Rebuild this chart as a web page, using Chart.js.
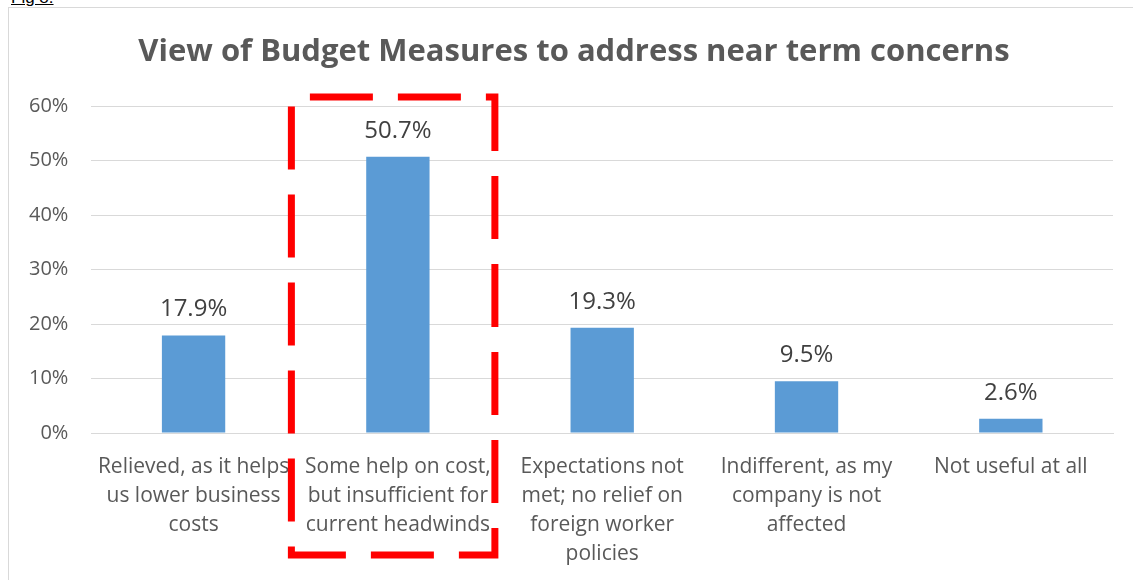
<!DOCTYPE html>
<html>
<head>
<meta charset="utf-8">
<script src="https://cdn.jsdelivr.net/npm/chart.js@4/dist/chart.umd.min.js"></script>
<style>
  html, body { margin: 0; padding: 0; background: #fff; overflow: hidden; }
  #wrap { position: relative; width: 1133px; height: 580px; overflow: hidden; }
  #fig { position: absolute; left: 11px; top: -12px; font: 17px "Liberation Sans", Arial, sans-serif; color: #000; text-decoration: underline; }
  #frame { position: absolute; left: 8px; top: 7px; width: 1132px; height: 600px; border: 1px solid #d9d9d9; box-sizing: border-box; }
  canvas { position: absolute; left: 8px; top: 7px; }
</style>
</head>
<body>
<div id="wrap">
  <div id="fig">Fig 8:</div>
  <div id="frame"></div>
  <canvas id="c" width="1132" height="573"></canvas>
</div>
<script>
const titleText = 'View of Budget Measures to address near term concerns';
const categories = [
  ['Relieved, as it helps', 'us lower business', 'costs'],
  ['Some help on cost,', 'but insufficient for', 'current headwinds'],
  ['Expectations not', 'met; no relief on', 'foreign worker', 'policies'],
  ['Indifferent, as my', 'company is not', 'affected'],
  ['Not useful at all']
];
const shares = [17.9, 50.7, 19.3, 9.5, 2.6];
const highlightIndex = 1;
const FONT = '"Open Sans", Lato, sans-serif';

// Chart title, centred on the whole chart frame
const frameTitle = {
  id: 'frameTitle',
  afterDraw(chart) {
    const ctx = chart.ctx;
    ctx.save();
    ctx.font = 'bold 31px ' + FONT;
    ctx.fillStyle = '#595959';
    ctx.textAlign = 'center';
    ctx.textBaseline = 'alphabetic';
    ctx.fillText(titleText, chart.width / 2, 54);
    ctx.restore();
  }
};

// Writes each bar's value above it
const valueLabels = {
  id: 'valueLabels',
  afterDatasetsDraw(chart) {
    const ctx = chart.ctx;
    const meta = chart.getDatasetMeta(0);
    ctx.save();
    ctx.font = '24px ' + FONT;
    ctx.fillStyle = '#404040';
    ctx.textAlign = 'center';
    ctx.textBaseline = 'middle';
    meta.data.forEach((bar, i) => {
      ctx.fillText(shares[i].toFixed(1) + '%', bar.x, bar.y - 26);
    });
    ctx.restore();
  }
};

// Red dashed box around the highlighted category
const highlightBox = {
  id: 'highlightBox',
  afterDraw(chart) {
    const ctx = chart.ctx;
    const x = chart.scales.x;
    const y = chart.scales.y;
    const cx = x.getPixelForValue(highlightIndex);
    const left = cx - 106.5, right = cx + 97;
    const top = y.top - 9, bottom = y.bottom + 122;
    ctx.save();
    ctx.strokeStyle = '#ff0000';
    ctx.lineWidth = 7;
    ctx.lineCap = 'butt';
    ctx.lineJoin = 'miter';
    ctx.setLineDash([63, 25]);
    ctx.lineDashOffset = 69.5;
    ctx.beginPath();
    ctx.moveTo(left, top);
    ctx.lineTo(right, top);
    ctx.lineTo(right, bottom);
    ctx.lineTo(left, bottom);
    ctx.closePath();
    ctx.stroke();
    ctx.restore();
  }
};

new Chart(document.getElementById('c'), {
  type: 'bar',
  data: {
    labels: categories,
    datasets: [{
      data: shares,
      backgroundColor: '#5b9bd5',
      borderWidth: 0,
      barPercentage: 0.31,
      categoryPercentage: 1
    }]
  },
  options: {
    responsive: false,
    animation: false,
    layout: { padding: { left: 0, right: 27, top: 99, bottom: 0 } },
    plugins: {
      legend: { display: false },
      tooltip: { enabled: false },
      title: { display: false }
    },
    scales: {
      x: {
        grid: { display: false, drawTicks: false },
        border: { display: true, color: '#d9d9d9', width: 1 },
        ticks: {
          color: '#595959',
          font: { family: FONT, size: 21, lineHeight: 29 / 21 },
          padding: 20,
          maxRotation: 0,
          autoSkip: false
        },
        afterFit(scale) { scale.height -= 9; }
      },
      y: {
        min: 0,
        max: 60,
        grid: { color: '#d9d9d9', lineWidth: 1, drawTicks: false },
        border: { display: false },
        ticks: {
          stepSize: 10,
          color: '#595959',
          font: { family: FONT, size: 20 },
          padding: 23,
          callback: v => v + '%'
        },
        afterFit(scale) { scale.width -= 2; }
      }
    }
  },
  plugins: [valueLabels, highlightBox, frameTitle]
});
</script>
</body>
</html>
